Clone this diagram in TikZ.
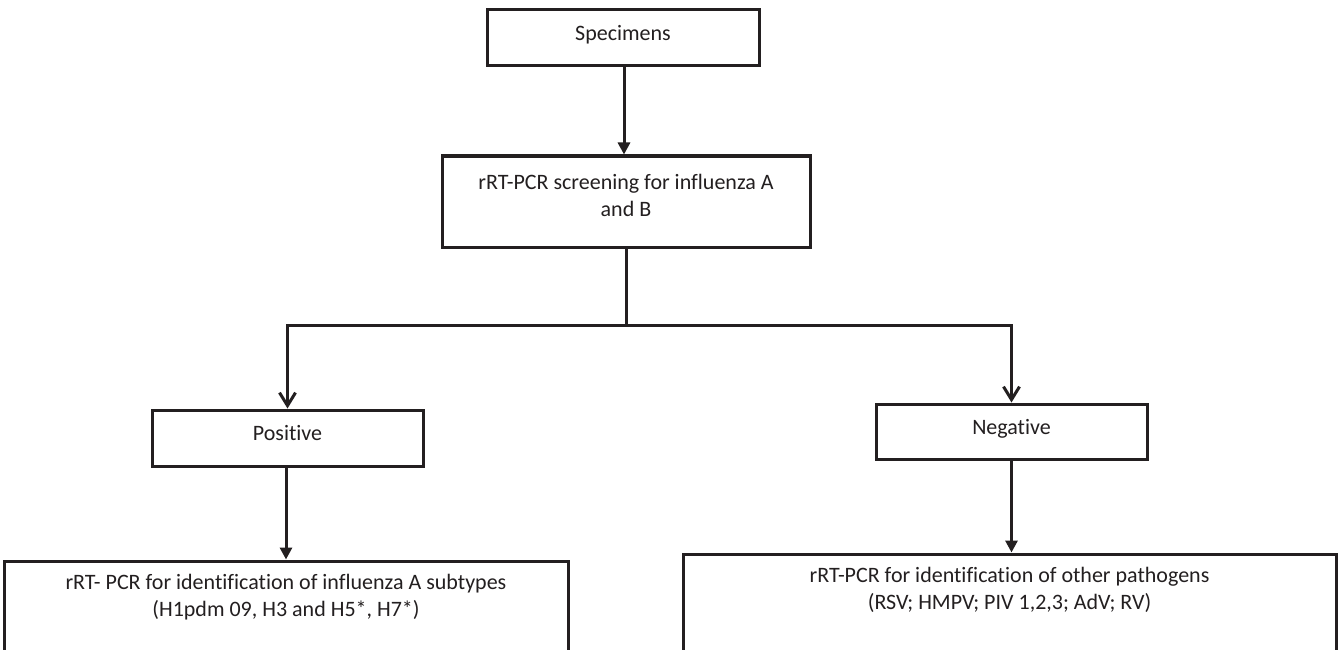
\documentclass[tikz,border=0pt]{standalone}
\usepackage{fontspec}
\setmainfont{Carlito}[Ligatures=CommonOff]
\usetikzlibrary{arrows.meta}
\definecolor{ink}{HTML}{231F20}
\tikzset{
  box/.style={draw=ink, line width=3pt, inner sep=0pt, align=center, font=\fontsize{22}{27}\selectfont, text=ink},
  solidarrow/.style={draw=ink, line width=3pt, -{Triangle[length=12pt,width=12pt]}},
  openarrow/.style={draw=ink, line width=3pt, -{Straight Barb[length=13pt,width=16pt]}},
  link/.style={draw=ink, line width=3pt}
}
\begin{document}
\begin{tikzpicture}[x=1pt,y=-1pt]
\useasboundingbox[fill=white] (0,0) rectangle (1341,650);
\node[box, minimum width=272pt, minimum height=56pt, text depth=10pt] (spec) at (623,38) {Specimens};
\node[box, minimum width=368pt, minimum height=91pt, text depth=12pt] (screen) at (626,201.5) {rRT-PCR screening for influenza A\\and B};
\node[box, minimum width=271pt, minimum height=56pt, text depth=10pt] (pos) at (287.5,438) {Positive};
\node[box, minimum width=271pt, minimum height=55pt, text depth=10pt] (neg) at (1011.5,431.5) {Negative};
\node[box, minimum width=564pt, minimum height=90pt, text depth=22pt] (subA) at (286,606) {rRT- PCR for identification of influenza A subtypes\\(H1pdm 09, H3 and H5*, H7*)};
\node[box, minimum width=653pt, minimum height=97pt, text depth=28pt] (other) at (1009.5,602.5) {rRT-PCR for identification of other pathogens\\(RSV; HMPV; PIV 1,2,3; AdV; RV)};
\coordinate (split) at (626,325);
\coordinate (splitL) at (287.5,325);
\coordinate (splitR) at (1011.5,325);
\draw[solidarrow] (spec.south -| 624,0) -- (screen.north -| 624,0);
\draw[link] (screen.south) -- (split);
\draw[openarrow] (split) -- (splitL) -- (pos.north);
\draw[openarrow] (split) -- (splitR) -- (neg.north);
\draw[solidarrow] (pos.south -| 286,0) -- (subA.north -| 286,0);
\draw[solidarrow] (neg.south) -- (other.north -| neg.south);
\end{tikzpicture}
\end{document}
